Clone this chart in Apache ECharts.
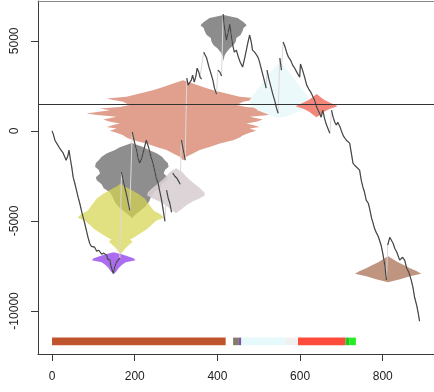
<!DOCTYPE html>
<html>
<head>
<meta charset="utf-8">
<script src="https://cdn.jsdelivr.net/npm/echarts@6/dist/echarts.min.js"></script>
<style>
  html, body { margin: 0; padding: 0; background: #ffffff; }
  #chart { width: 434px; height: 392px; }
</style>
</head>
<body>
<div id="chart"></div>
<script>
// Simulated walk: index and value
const walkX = [
  0, 3, 7, 11, 15, 20, 27, 31, 34, 38, 41, 44, 48, 51, 55, 59, 63, 67, 71, 75,
  79, 83, 87, 91, 95, 99, 103, 108, 113, 115, 120, 125, 132, 135, 140, 142, 148, 152, 156, 160,
  164, 168, 173, 181, 188, 194, 200, 205, 208, 212, 217, 222, 228, 234, 239, 244, 248, 252, 256, 260,
  265, 269, 273, 277, 281, 285, 289, 292, 297, 302, 306, 310, 313, 316, 320, 322,
  326, 329, 333, 337, 340, 344, 348, 351, 355, 358, 362, 367, 369, 374, 379, 384, 389, 393, 398, 401,
  406, 410, 414, 416, 420, 422, 426, 430, 433, 437, 441, 446, 450, 455, 461, 466, 471, 474, 478, 482,
  485, 490, 495, 499, 502, 507, 512, 518, 520, 524, 529, 534, 539, 543, 547, 551, 555, 559, 563, 568,
  572, 577, 582, 587, 592, 599, 601, 606, 611, 616, 621, 626, 630, 635, 640, 647, 651, 655, 659, 664,
  672, 676, 680, 684, 688, 691, 696, 701, 705, 712, 715, 720, 724, 728, 732, 737, 744, 748, 752, 756,
  760, 765, 768, 773, 776, 780, 785, 789, 792, 796, 800, 805, 809, 812, 817, 821, 825, 829, 834, 841,
  845, 848, 853, 858, 863, 865, 869, 873, 877, 882, 886, 889
];
const walkY = [
  0, -180, -520, -680, -790, -1020, -1240, -1460, -1630, -1410, -1070, -1520, -2070, -2570, -2910, -3290, -3680, -4020, -4410, -4790,
  -5130, -5520, -5910, -6240, -6410, -6520, -6460, -6680, -6630, -6740, -6850, -6790, -6910, -7130, -7180, -7460, -7910, -7520, -7290, -7350,
  -7070, -2290, -2850, -3630, -4410, -70, -680, -1130, -1520, -1790, -1520, -1070, -520, -960, -1410, -1790, -2180, -2630, -2850, -3290,
  -3850, -4410, -5020, -3290, -3740, -4020, -4520, -2350, -2520, -2630, -2790, -2960, -520, -910, -1350, -1630,
  2930, 2540, 2590, 2820, 3090, 2710, 3040, 3480, 3260, 2980, 2870, 4370, 4480, 4040, 3590, 3210, 2820, 2370, 2040, 3370,
  3260, 3040, 6480, 5930, 5260, 5040, 5480, 5930, 5370, 4760, 4370, 4480, 4150, 3820, 3540, 4040, 4590, 4930, 5320, 4930,
  4480, 4370, 4210, 4040, 3820, 3370, 2930, 2370, 3370, 2930, 2480, 2040, 1650, 1260, 980, 4040, 3370, 4930, 4710, 4320,
  4090, 3930, 3650, 3480, 3260, 2980, 3710, 3370, 2980, 2540, 2320, 2150, 2040, 1710, 1320, 980, 760, 1150, 710, 320,
  -130, 1150, 760, 480, 320, 480, 260, -70, -290, -520, -630, -680, -1240, -1790, -1910, -2020, -2180, -2740, -3130, -3410,
  -3850, -4020, -4290, -4850, -5070, -5410, -5680, -5850, -5910, -6350, -6790, -7460, -8290, -6350, -5910, -5850, -6240, -6520, -6740, -7180,
  -7290, -7020, -7180, -7630, -7850, -7960, -8290, -8680, -9240, -9680, -10130, -10570
];

// Reference level
const levelY = 1480;

// Histogram profiles: centre index, bin levels, half widths (index units)
const salmonCentre = 317;
const salmonLevels = [2810, 2630, 2440, 2260, 2080, 1890, 1800, 1710, 1610, 1520, 1430, 1330, 1240, 1150, 970, 870, 780, 630, 500, 410, 320, 220, 130, 0, -110, -240, -370, -520, -700, -890, -1070, -1260, -1440, -1630];
const salmonHalf   = [0, 24, 48, 73, 105, 137, 185, 169, 145, 137, 129, 153, 202, 177, 234, 202, 161, 193, 177, 153, 169, 185, 161, 177, 161, 145, 137, 121, 89, 64, 40, 24, 8, 0];

const topGreyCentre = 415;
const topGreyLevels = [6430, 6260, 6040, 5870, 5710, 5540, 5320, 5150, 4930, 4760, 4590, 4370, 4150, 3870];
const topGreyHalf   = [0, 34, 48, 56, 48, 46, 41, 31, 29, 24, 15, 7, 2, 0];

const midGreyCentre = 193;
const midGreyLevels = [-680, -910, -1070, -1240, -1440, -1630, -1790, -2000, -2180, -2370, -2570, -2740, -2960, -3180, -3410, -3680, -3960, -4240, -4460, -4680, -4850];
const midGreyHalf   = [0, 29, 41, 60, 73, 80, 87, 89, 80, 77, 87, 85, 73, 68, 53, 46, 41, 31, 19, 7, 0];

const yellowCentre = 166;
const yellowLevels = [-2930, -3090, -3260, -3480, -3760, -3980, -4210, -4430, -4650, -4820, -4980, -5210, -5430, -5650, -5870, -6040, -6150, -6260, -6430, -6650, -6870];
const yellowHalf   = [0, 10, 24, 41, 58, 65, 73, 80, 97, 104, 87, 75, 65, 51, 36, 22, 29, 24, 15, 7, 0];

const purpleCentre = 149;
const purpleLevels = [-6740, -6850, -6960, -7070, -7180, -7290, -7460, -7630, -7790, -7960];
const purpleHalf   = [0, 19, 34, 48, 53, 29, 19, 12, 7, 0];

const mauveCentre = 300;
const mauveLevels = [-2070, -2290, -2520, -2740, -2960, -3180, -3410, -3570, -3740, -3910, -4070, -4240, -4410, -4570];
const mauveHalf   = [0, 15, 24, 34, 46, 58, 68, 70, 58, 41, 29, 19, 10, 0];

const cyanCentre = 551;
const cyanLevels = [3820, 3370, 2930, 2480, 2040, 1710, 1370, 1090, 870, 710];
const cyanHalf   = [0, 19, 34, 48, 63, 73, 68, 48, 24, 0];

const redCentre = 640;
const redLevels = [2040, 1870, 1710, 1540, 1370, 1210, 1040, 870, 760];
const redHalf   = [0, 10, 19, 34, 51, 31, 17, 7, 0];

const brownCentre = 813;
const brownLevels = [-6960, -7130, -7290, -7460, -7630, -7790, -7930, -8070, -8240, -8410];
const brownHalf   = [0, 12, 24, 39, 53, 70, 80, 53, 29, 0];

// Regime strip along the bottom
const regimeStart = [0, 438, 452, 458, 563, 595, 710, 720];
const regimeEnd   = [420, 452, 458, 563, 595, 710, 720, 735];
const regimeColour = ['#c0542c', '#85796b', '#7f56a8', '#e6fafc', '#f1f1f1', '#ff4b3b', '#1ec81e', '#22ee22'];

// Axis ticks
const xTicks = [0, 200, 400, 600, 800];
const yTicks = [-10000, -5000, 0, 5000];

const X_MIN = -34, X_MAX = 924, Y_MIN = -12390, Y_MAX = 7210;
const STRIP_TOP = -11480, STRIP_BOTTOM = -11900;
const JUMP = 900; // upward steps larger than this are drawn as faint connectors
const FONT = '"Liberation Sans", Arial, Helvetica, sans-serif';

function histogram(centre, levels, half, colour, opacity, z) {
  return {
    type: 'custom',
    silent: true,
    z: z,
    animation: false,
    data: [[centre, levels[0]]],
    encode: { x: 0, y: 1 },
    renderItem: function (params, api) {
      const right = levels.map((y, i) => api.coord([centre + half[i], y]));
      const left = levels.map((y, i) => api.coord([centre - half[i], y])).reverse();
      return {
        type: 'polygon',
        shape: { points: right.concat(left) },
        style: { fill: colour, opacity: opacity }
      };
    }
  };
}

// Runs of the walk, broken at the large upward jumps
const runs = [];
walkX.forEach((x, i) => {
  if (i > 0 && walkY[i] - walkY[i - 1] > JUMP) runs.push([x, null]);
  runs.push([x, walkY[i]]);
});

const chart = echarts.init(document.getElementById('chart'), null, { renderer: 'canvas' });

const option = {
  animation: false,
  backgroundColor: '#ffffff',
  grid: { left: 38, right: 0, top: 1, bottom: 38, show: false },
  xAxis: [
    {
      type: 'value', min: X_MIN, max: X_MAX, position: 'bottom',
      axisLine: { show: true, onZero: false, lineStyle: { color: '#3a3a3a', width: 1 } },
      axisTick: { show: true, length: 7, customValues: xTicks, lineStyle: { color: '#3a3a3a' } },
      axisLabel: { customValues: xTicks, margin: 17, fontSize: 12, color: '#222', fontFamily: FONT },
      splitLine: { show: false }
    },
    {
      type: 'value', min: X_MIN, max: X_MAX, position: 'top',
      axisLine: { show: true, onZero: false, lineStyle: { color: '#8a8a8a', width: 1 } },
      axisTick: { show: false }, axisLabel: { show: false }, splitLine: { show: false }
    }
  ],
  yAxis: {
    type: 'value', min: Y_MIN, max: Y_MAX,
    axisLine: { show: true, onZero: false, lineStyle: { color: '#3a3a3a', width: 1 } },
    axisTick: { show: true, length: 7, customValues: yTicks, lineStyle: { color: '#3a3a3a' } },
    axisLabel: {
      customValues: yTicks, rotate: 90, margin: 17, fontSize: 12, color: '#222', fontFamily: FONT,
      formatter: v => String(v)
    },
    splitLine: { show: false }
  },
  series: [
    histogram(salmonCentre, salmonLevels, salmonHalf, '#e0a08d', 1, 2),
    histogram(cyanCentre, cyanLevels, cyanHalf, '#ecf9fb', 1, 2),
    histogram(topGreyCentre, topGreyLevels, topGreyHalf, '#8c8c8c', 1, 2),
    histogram(midGreyCentre, midGreyLevels, midGreyHalf, '#8e8e8e', 1, 2),
    histogram(mauveCentre, mauveLevels, mauveHalf, '#d8cfd3', 0.9, 2),
    histogram(yellowCentre, yellowLevels, yellowHalf, '#d6d550', 0.72, 3),
    histogram(purpleCentre, purpleLevels, purpleHalf, '#a25cf0', 0.9, 3),
    histogram(redCentre, redLevels, redHalf, '#f2786a', 0.9, 3),
    histogram(brownCentre, brownLevels, brownHalf, '#bf9580', 1, 3),
    {
      type: 'custom',
      silent: true,
      z: 4,
      animation: false,
      data: regimeStart.map((s, i) => [s, regimeEnd[i], i]),
      encode: { x: [0, 1] },
      renderItem: function (params, api) {
        const p0 = api.coord([api.value(0), STRIP_TOP]);
        const p1 = api.coord([api.value(1), STRIP_BOTTOM]);
        return {
          type: 'rect',
          shape: { x: p0[0], y: p0[1], width: p1[0] - p0[0], height: p1[1] - p0[1] },
          style: { fill: regimeColour[api.value(2)] }
        };
      }
    },
    {
      // full path, faint, so the jumps read as light connectors
      type: 'line',
      z: 4,
      silent: true,
      showSymbol: false,
      animation: false,
      data: walkX.map((x, i) => [x, walkY[i]]),
      lineStyle: { color: '#ddd8d8', width: 1 },
      markLine: {
        silent: true,
        symbol: ['none', 'none'],
        label: { show: false },
        lineStyle: { color: '#333', width: 1, type: 'solid' },
        data: [{ yAxis: levelY }]
      }
    },
    {
      type: 'line',
      z: 5,
      silent: true,
      showSymbol: false,
      animation: false,
      connectNulls: false,
      data: runs,
      lineStyle: { color: '#353535', width: 1.2, opacity: 0.9 }
    }
  ]
};

chart.setOption(option);
</script>
</body>
</html>
